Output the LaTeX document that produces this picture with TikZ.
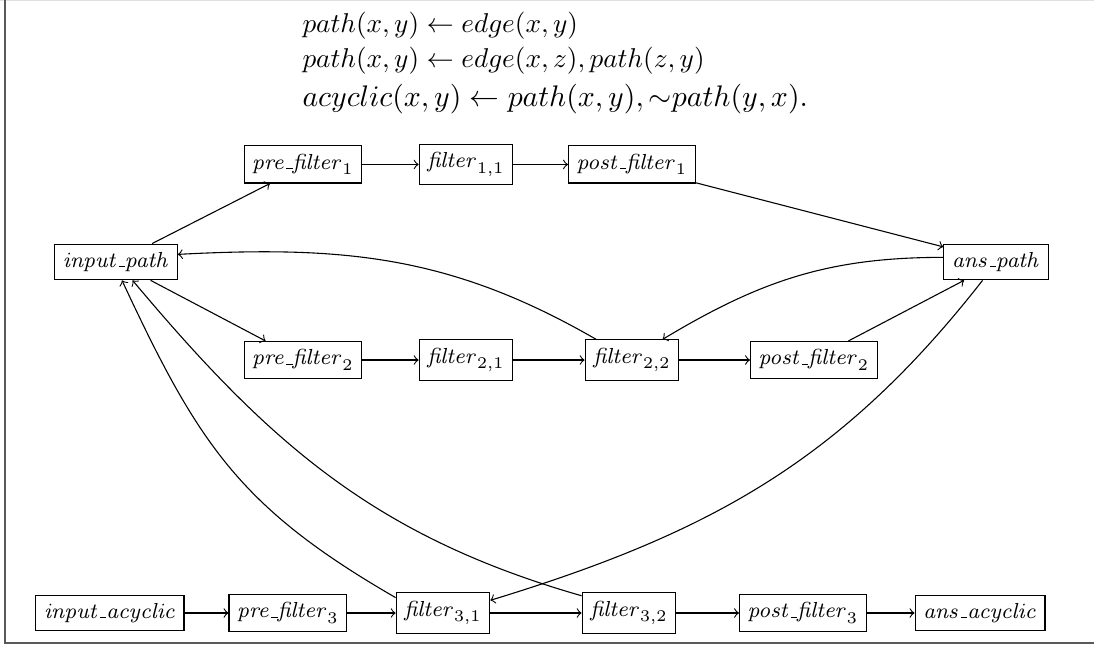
\documentclass[tikz,border=0pt]{standalone}
\usepackage{amsmath}
\usepackage{amssymb}
\usepackage{tikz}
\usetikzlibrary{arrows}
\DeclareMathSizes{7.6}{7.6}{6}{5}
\newcommand{\usc}{\kern.06em\vbox{\hrule width.3em}}

\begin{document}
\begin{tikzpicture}[->,auto,thin,
    box/.style={draw,rectangle,inner xsep=3pt,inner ysep=3pt,
      font=\fontsize{7.6pt}{9pt}\selectfont},
    rule/.style={anchor=base west,inner sep=0pt}]
  \useasboundingbox (0,0) rectangle (14.136,8.347);
  \draw[-,black!12] (0,8.335) -- (14.136,8.335);
  \draw[-,black!65] (0.065,8.347) -- (0.065,0.039) -- (14.136,0.039);
  % rules
  \node[rule] (eq1) at (3.902,7.921) {$path(x,y) \leftarrow edge(x,y)$};
  \node[rule] (eq2) at (3.902,7.481) {$path(x,y) \leftarrow edge(x,z), path(z,y)$};
  \node[rule,font=\fontsize{11pt}{13pt}\selectfont] (eq3) at (3.902,6.977)
    {$acyclic(x,y) \leftarrow path(x,y), {\sim}path(y,x).$};
  % nodes
  \node[box] (ip) at (1.499,4.962) {$\mathit{input\usc path}$};
  \node[box] (ap) at (12.869,4.962) {$\mathit{ans\usc path}$};
  \node[box] (pf1) at (3.915,6.222) {$\mathit{pre\usc filter}_1$};
  \node[box] (f11) at (6.021,6.222) {$\mathit{filter}_{1,1}$};
  \node[box] (pof1) at (8.166,6.222) {$\mathit{post\usc filter}_1$};
  \node[box] (pf2) at (3.915,3.695) {$\mathit{pre\usc filter}_2$};
  \node[box] (f21) at (6.021,3.695) {$\mathit{filter}_{2,1}$};
  \node[box] (f22) at (8.166,3.695) {$\mathit{filter}_{2,2}$};
  \node[box] (pof2) at (10.518,3.695) {$\mathit{post\usc filter}_2$};
  \node[box] (ia) at (1.421,0.426) {$\mathit{input\usc acyclic}$};
  \node[box] (pf3) at (3.721,0.426) {$\mathit{pre\usc filter}_3$};
  \node[box] (f31) at (5.724,0.426) {$\mathit{filter}_{3,1}$};
  \node[box] (f32) at (8.127,0.426) {$\mathit{filter}_{3,2}$};
  \node[box] (pof3) at (10.376,0.426) {$\mathit{post\usc filter}_3$};
  \node[box] (aa) at (12.663,0.426) {$\mathit{ans\usc acyclic}$};
  % edges
  \path (ip.27) edge (pf1.210)
        (ip.-28) edge (pf2.153)
        (pf1) edge (f11)
        (f11) edge (pof1)
        (pof1.-16) edge (ap.164)
        (pf2) edge (f21)
        (f21) edge (f22)
        (f22) edge (pof2)
        (pof2.29) edge (ap.210)
        (ap.175) edge [out=180,in=31] (f22.34)
        (f22.150) edge [out=150,in=3] (ip.7)
        (ap.234) edge [out=232,in=17] (f31.15)
        (f32.160) edge [out=164,in=-50] (ip.-48)
        (f31.162) edge [out=150,in=-65,looseness=1.1] (ip.-72)
        (ia) edge (pf3)
        (pf3) edge (f31)
        (f31) edge (f32)
        (f32) edge (pof3)
        (pof3) edge (aa);
\end{tikzpicture}
\end{document}
